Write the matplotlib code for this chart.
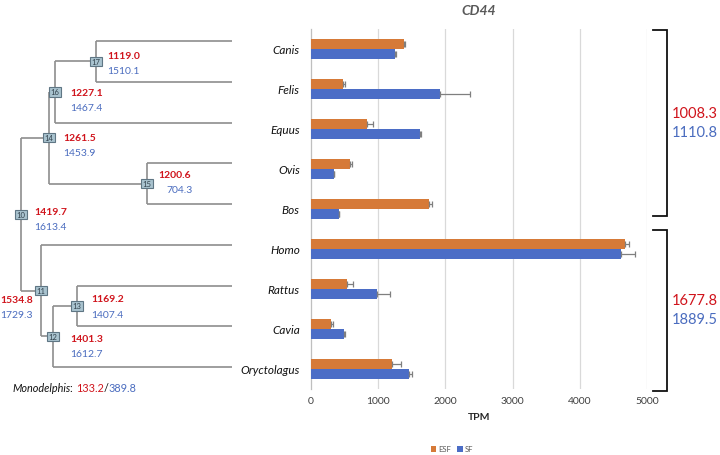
import matplotlib
matplotlib.use("Agg")
import matplotlib.pyplot as plt
import numpy as np

plt.rcParams['font.family'] = ['Lato', 'DejaVu Sans']

# ---------------- data ----------------
species = ["Canis", "Felis", "Equus", "Ovis", "Bos", "Homo", "Rattus", "Cavia", "Oryctolagus"]
esf = [1384, 470, 828, 585, 1756, 4673, 540, 293, 1200]
esf_err = [15, 40, 100, 20, 40, 60, 80, 30, 140]
sf = [1250, 1920, 1622, 342, 421, 4613, 987, 496, 1454]
sf_err = [15, 450, 20, 0, 0, 210, 190, 10, 45]
xticks = [0, 1000, 2000, 3000, 4000, 5000]

# tree: internal node -> children (leaves are species indices)
tree = {17: [0, 1], 16: [17, 2], 15: [3, 4], 14: [16, 15],
        13: [6, 7], 12: [13, 8], 11: [5, 12], 10: [14, 11]}
node_esf = {17: "1119.0", 16: "1227.1", 14: "1261.5", 15: "1200.6",
            10: "1419.7", 11: "1534.8", 13: "1169.2", 12: "1401.3"}
node_sf = {17: "1510.1", 16: "1467.4", 14: "1453.9", 15: "704.3",
           10: "1613.4", 11: "1729.3", 13: "1407.4", 12: "1612.7"}
group_esf = ["1008.3", "1677.8"]
group_sf = ["1110.8", "1889.5"]
mono_esf, mono_sf = "133.2", "389.8"

# layout (pixel positions of node depth, label offsets)
node_x = {10: 21, 11: 41, 12: 53, 13: 77, 14: 49, 15: 147, 16: 55, 17: 96}
leaf_x = 232
lab_off = {17: ((11, -6), (11, 9)), 16: ((15, 1), (15, 16)), 14: ((14, 0), (14, 15)),
           15: ((11, -9), (19, 6)), 10: ((13, -3), (13, 12)), 11: ((-41, 9), (-41, 24)),
           13: ((14, -7), (14, 9)), 12: ((17, 2), (17, 17))}

C_ESF = "#d67a38"
C_SF = "#4b6dc6"
RED = "#d0141c"
BLUE = "#4a6cbf"
TREE = "#8e8e8e"

W, H = 720, 456
fig = plt.figure(figsize=(W / 100, H / 100), dpi=100)

# overlay axes in pixel coords
ov = fig.add_axes([0, 0, 1, 1])
ov.set_xlim(0, W)
ov.set_ylim(H, 0)
ov.axis("off")
ov.patch.set_alpha(0)

# ---------------- bar chart ----------------
ax = fig.add_axes([311 / W, 1 - 390 / H, 336 / W, 360 / H])
y = np.arange(len(species))
h = 0.25
zeros = [0] * len(species)
ekw = dict(ecolor="#7f7f7f", elinewidth=0.9, capsize=2, capthick=0.9)
ax.barh(y - h / 2, esf, height=h, color=C_ESF, xerr=[zeros, esf_err], error_kw=ekw, label="ESF", zorder=3)
ax.barh(y + h / 2, sf, height=h, color=C_SF, xerr=[zeros, sf_err], error_kw=ekw, label="SF", zorder=3)
ax.set_ylim(len(species) - 0.5, -0.5)
ax.set_xlim(0, 5000)
ax.set_xticks(xticks)
ax.set_xticklabels([str(t) for t in xticks], fontsize=7.5, color="#404040")
ax.set_yticks(y)
ax.set_yticklabels(species, fontsize=8.5, style="italic", color="#111111")
ax.tick_params(length=0, pad=8)
ax.tick_params(axis="x", pad=5)
for t in xticks[1:]:
    ax.axvline(t, color="#d9d9d9", lw=0.9, zorder=0)
for s in ["top", "right", "bottom"]:
    ax.spines[s].set_visible(False)
ax.spines["left"].set_color("#bfbfbf")
ax.spines["left"].set_linewidth(0.9)
ax.set_xlabel("TPM", fontsize=7.5, fontweight="bold", color="#262626", labelpad=5)
ax.set_title("CD44", fontsize=10, fontweight="bold", style="italic", color="#595959", pad=11)

fig.legend(loc="center", bbox_to_anchor=(452 / W, 1 - 450 / H), ncol=2, frameon=False,
           fontsize=5.5, handlelength=0.7, handleheight=0.7, columnspacing=0.8,
           handletextpad=0.3, labelcolor="#595959")

# ---------------- tree ----------------
ty0, ty1 = 42, 368
step = (ty1 - ty0) / (len(species) - 1)
tax = fig.add_axes([0, 1 - (ty1 + step / 2) / H, 240 / W, (ty1 - ty0 + step) / H])
tax.set_xlim(0, 240)
tax.set_ylim(len(species) - 0.5, -0.5)
tax.axis("off")
tax.patch.set_alpha(0)

ny = {}
def ypos(n):
    if n not in tree:
        return float(n)
    if n not in ny:
        ny[n] = np.mean([ypos(c) for c in tree[n]])
    return ny[n]

for n, ch in tree.items():
    ys = [ypos(c) for c in ch]
    x0 = node_x[n]
    tax.plot([x0, x0], [min(ys), max(ys)], color=TREE, lw=1.2, solid_capstyle="butt", zorder=1)
    for c in ch:
        x1 = node_x[c] if c in tree else leaf_x
        tax.plot([x0, x1], [ypos(c), ypos(c)], color=TREE, lw=1.2, solid_capstyle="butt", zorder=1)

for n in tree:
    x0, y0 = node_x[n], ypos(n)
    tax.text(x0, y0, str(n), fontsize=5.5, ha="center", va="center", color="#2f3f4a",
             bbox=dict(boxstyle="square,pad=0.15", fc="#a9c3cf", ec="#5f7684", lw=0.8), zorder=3)
    (rx, ry), (bx, by) = lab_off[n]
    tax.annotate(node_esf[n], (x0, y0), xytext=(rx, -ry), textcoords="offset pixels",
                 fontsize=7.5, fontweight="bold", color=RED, ha="left", va="center")
    tax.annotate(node_sf[n], (x0, y0), xytext=(bx, -by), textcoords="offset pixels",
                 fontsize=7.5, color=BLUE, ha="left", va="center")

# Monodelphis label
t = ov.text(12, 389, "Monodelphis", fontsize=7.8, style="italic", color="#111111", va="center", ha="left")
parts = [(": ", "#111111"), (mono_esf, RED), ("/", "#111111"), (mono_sf, BLUE)]
prev = t
for s, c in parts:
    prev = ov.annotate(s, xy=(1, 0.5), xycoords=prev, va="center", ha="left", fontsize=7.8, color=c)

# ---------------- brackets ----------------
brackets = [(31, 217), (231, 392)]
for (b0, b1), ge, gs in zip(brackets, group_esf, group_sf):
    ov.plot([653, 667, 667, 653], [b0, b0, b1, b1], color="#111111", lw=1.3,
            solid_joinstyle="miter")
    mid = (b0 + b1) / 2
    ov.text(672, mid - 10, ge, fontsize=10.5, color=RED, ha="left", va="center")
    ov.text(672, mid + 9, gs, fontsize=10.5, color=BLUE, ha="left", va="center")

fig.savefig("out.png", dpi=100)
